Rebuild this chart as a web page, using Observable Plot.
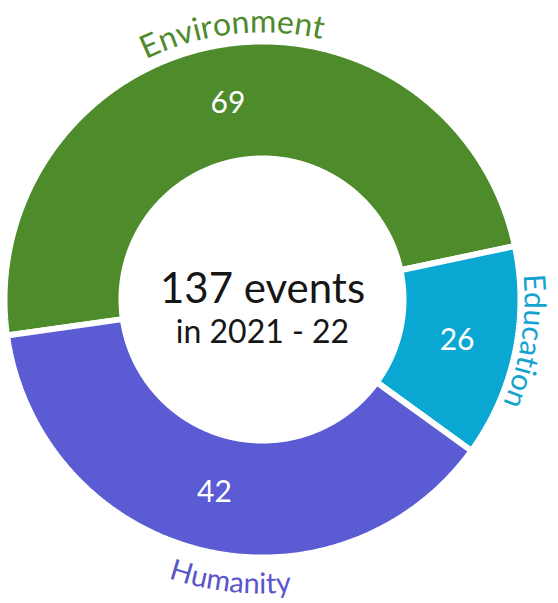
<!DOCTYPE html>
<html><head><meta charset="utf-8">
<script src="https://cdn.jsdelivr.net/npm/d3@7"></script>
<script src="https://cdn.jsdelivr.net/npm/@observablehq/plot@0.6"></script>
<style>body{margin:0;background:#fff}</style>
</head><body><div id="chart"></div>
<script>
// ---- data ----
const categories = ["Environment", "Education", "Humanity"];
const events = [69, 26, 42];
// share of the ring each slice occupies in the picture (% of the full circle)
const ringShare = [48.9, 13.3, 37.8];
const colors = ["#4e8b2b", "#0ba7d3", "#5b5bd4"];
const labelColors = ["#4f8a2e", "#14a3cf", "#5a55cc"];
const centerTitle = "137 events";
const centerSubtitle = "in 2021 - 22";

// ---- layout ----
const W = 558, H = 603;
const cx = 262, cy = 299, R = 255;          // ring centre and outer radius (px)
const innerR = 144 / R;                       // inner radius in ring units
const gap = 3 / R;                            // half of the white gap
const startDeg = -98;                         // where the first slice begins (clockwise from top)
const rad = Math.PI / 180;

let acc = 0;
const slices = categories.map((c, i) => {
  const a0 = startDeg + acc * 3.6; acc += ringShare[i];
  const a1 = startDeg + acc * 3.6;
  return {c, i, a0, a1, mid: (a0 + a1) / 2, value: events[i]};
});

const ringPts = [];
for (const s of slices) {
  const n = Math.ceil((s.a1 - s.a0) / 0.5);
  const pts = [];
  for (let k = 0; k <= n; k++) {
    const a = (s.a0 + (s.a1 - s.a0) * k / n) * rad, r = 1 + gap;
    pts.push({c: s.c, x: r * Math.sin(a), y: -r * Math.cos(a)});
  }
  for (let k = n; k >= 0; k--) {
    const a = (s.a0 + (s.a1 - s.a0) * k / n) * rad, r = innerR - gap;
    pts.push({c: s.c, x: r * Math.sin(a), y: -r * Math.cos(a)});
  }
  pts.push({...pts[0]});
  ringPts.push(...pts);
}

// curved labels, one text mark datum per character
const ctx = document.createElement("canvas").getContext("2d");
function curved(label, color, centerDeg, baseR, size, outward) {
  ctx.font = `${size}px Lato`;
  const ws = [...label].map(ch => ctx.measureText(ch).width);
  const L = d3.sum(ws);
  let s = 0;
  return [...label].map((ch, k) => {
    const off = (s + ws[k] / 2 - L / 2) / baseR / rad; s += ws[k];
    const ang = outward ? centerDeg + off : centerDeg - off;
    return {ch, color, size,
      x: baseR / R * Math.sin(ang * rad), y: -baseR / R * Math.cos(ang * rad),
      rot: outward ? ang : ang - 180};
  });
}
const labelSpec = [
  {center: -6.5, r: 267, size: 32, outward: true},
  {center: 99, r: 262, size: 30, outward: true},
  {center: 186.5, r: 294, size: 29, outward: false}
];
const curvedChars = categories.flatMap((c, i) =>
  curved(c, labelColors[i], labelSpec[i].center, labelSpec[i].r, labelSpec[i].size, labelSpec[i].outward));

const centerText = [
  {t: centerTitle, x: 0, y: 3 / R, size: 42},
  {t: centerSubtitle, x: 0, y: 43 / R, size: 32}
];

const chart = Plot.plot({
  width: W, height: H, margin: 0,
  x: {domain: [-cx / R, (W - cx) / R], range: [0, W], axis: null},
  y: {domain: [-cy / R, (H - cy) / R], range: [0, H], axis: null},
  color: {domain: categories, range: colors},
  style: {fontFamily: "Lato", background: "white"},
  marks: [
    Plot.line(ringPts, {x: "x", y: "y", z: "c", fill: "c", stroke: "white", strokeWidth: 6, strokeLinejoin: "miter"}),
    Plot.text(slices, {
      x: d => 0.78 * Math.sin(d.mid * rad), y: d => -0.78 * Math.cos(d.mid * rad),
      text: d => String(d.value), fill: "white", fontSize: 30, fontFamily: "Lato"
    }),
    Plot.text(curvedChars, {x: "x", y: "y", text: "ch", rotate: "rot", fill: d => d.color,
      fontSize: d => d.size, lineAnchor: "bottom", textAnchor: "middle", fontFamily: "Lato"}),
    Plot.text(centerText, {x: "x", y: "y", text: "t", fontSize: d => d.size, lineAnchor: "bottom",
      fill: "#161616", fontFamily: "Lato"})
  ]
});
document.getElementById("chart").append(chart);
</script>
</body></html>
